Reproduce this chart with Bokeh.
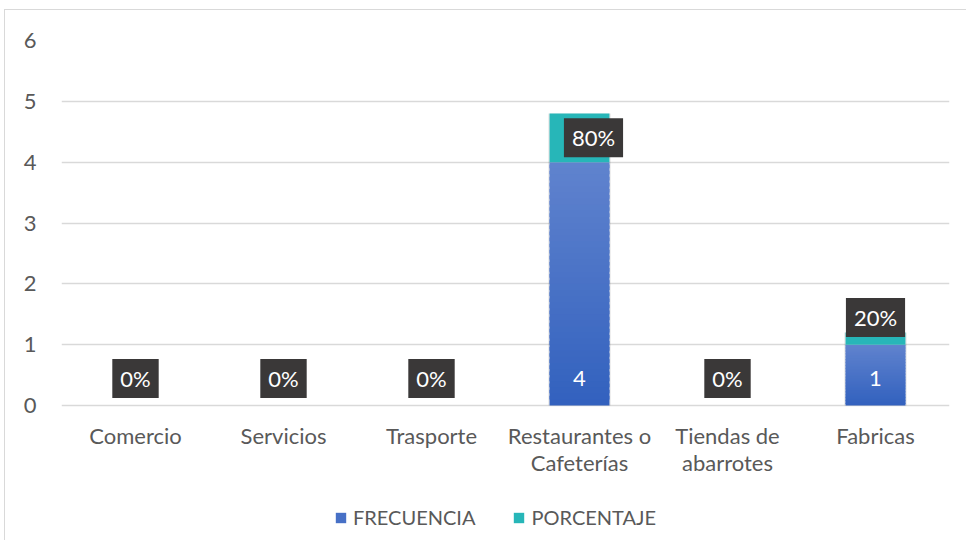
from bokeh.plotting import figure
from bokeh.models import Range1d, Legend, LegendItem, ColumnDataSource
from bokeh.embed import file_html
from bokeh.resources import INLINE
from bokeh.core.properties import value

categories = ["Comercio", "Servicios", "Trasporte", "Restaurantes o\nCafeterías", "Tiendas de\nabarrotes", "Fabricas"]
frecuencia = [0, 0, 0, 4, 0, 1]
porcentaje = [0.0, 0.0, 0.0, 0.8, 0.0, 0.2]
y_ticks = [0, 1, 2, 3, 4, 5, 6]

FONT = "Lato"
TXT = "#595959"
BLUE_TOP = (0x60, 0x83, 0xCE)
BLUE_BOT = (0x32, 0x61, 0xBE)
TEAL = "#27B6B8"

# plot area: 0..6 occupies the upper 365 px; the lower 135 px holds the category labels and legend
Y_MAX = 6
Y_MIN = -Y_MAX * 135 / 365
p = figure(x_range=categories, y_range=Range1d(Y_MIN, Y_MAX),
           output_backend="svg", toolbar_location=None, x_axis_location=None,
           min_border_left=56, min_border_right=18, min_border_top=30, min_border_bottom=0)
p.frame_width = 888
p.frame_height = 500
p.outline_line_color = None
p.styles = {"margin-left": "4px", "margin-top": "9px",
            "border-left": "1px solid #d9d9d9", "border-top": "1px solid #d9d9d9"}

# gradient bars (banded from the data values)
N = 40
bx, bb, bt, bc = [], [], [], []
for c, v in zip(categories, frecuencia):
    if v <= 0:
        continue
    for i in range(N):
        t = (i + 0.5) / N
        col = tuple(int(round(BLUE_BOT[k] + (BLUE_TOP[k] - BLUE_BOT[k]) * t)) for k in range(3))
        bx.append(c)
        bb.append(v * i / N)
        bt.append(min(v, v * (i + 1.6) / N))
        bc.append("#%02x%02x%02x" % col)
# soft shadow
sx = [c for c, v in zip(categories, frecuencia) if v > 0]
stop = [v + q for v, q in zip(frecuencia, porcentaje) if v > 0]
p.vbar(x=sx, top=stop, bottom=0, width=0.425, fill_color="#000000", fill_alpha=0.07, line_color=None)
p.vbar(x=bx, top=bt, bottom=bb, width=0.405, fill_color=bc, line_color=None)
p.vbar(x=categories, top=[v + q for v, q in zip(frecuencia, porcentaje)], bottom=frecuencia,
       width=0.405, fill_color=TEAL, line_color=None)

# legend proxies (outside the visible range)
r1 = p.vbar(x=[categories[0]], top=[-20], bottom=[-21], width=0.1, fill_color="#4770C6", line_color=None)
r2 = p.vbar(x=[categories[0]], top=[-20], bottom=[-21], width=0.1, fill_color=TEAL, line_color=None)

# category labels (under the zero line)
p.text(x=categories, y=[0] * len(categories), text=categories, y_offset=16,
       text_align="center", text_baseline="top", text_color=TXT,
       text_font=value(FONT), text_font_size="22px", text_line_height=1.0)

# frequency labels
fx = [c for c, v in zip(categories, frecuencia) if v > 0]
ft = [str(v) for v in frecuencia if v > 0]
p.text(x=fx, y=[0] * len(fx), text=ft, y_offset=-27, text_align="center", text_baseline="middle",
       text_color="white", text_font=value(FONT), text_font_size="22px")

# percentage labels
px_off = [0, 0, 0, 14, 0, 0]
py_off = [-27, -27, -27, 0, -27, -21]
py = [v + q / 2 for v, q in zip(frecuencia, porcentaje)]
pt = ["%d%%" % round(q * 100) for q in porcentaje]
src = ColumnDataSource(dict(x=categories, y=py, t=pt, dx=px_off, dy=py_off))
p.text(x="x", y="y", text="t", x_offset="dx", y_offset="dy", source=src,
       text_align="center", text_baseline="middle", text_color="white",
       text_font=value(FONT), text_font_size="22px",
       background_fill_color="#3A3838", padding=dict(x=8, y=6))

# y axis
p.yaxis.ticker = y_ticks
p.yaxis.axis_line_color = None
p.yaxis.major_tick_line_color = None
p.yaxis.minor_tick_line_color = None
p.yaxis.major_label_text_font = FONT
p.yaxis.major_label_text_font_size = "22px"
p.yaxis.major_label_text_color = TXT
p.yaxis.major_label_standoff = 19
p.xgrid.grid_line_color = None
p.ygrid.grid_line_color = "#D9D9D9"
p.ygrid.grid_line_width = 1.5

legend = Legend(items=[LegendItem(label="FRECUENCIA", renderers=[r1]),
                       LegendItem(label="PORCENTAJE", renderers=[r2])],
                orientation="horizontal", location=(273, 11),
                label_text_font=FONT, label_text_font_size="20px", label_text_color=TXT,
                glyph_width=13, glyph_height=13, spacing=37, border_line_color=None,
                background_fill_alpha=0, margin=0, padding=0, label_standoff=6,
                label_height=22)
p.add_layout(legend, "center")

open("out.html", "w").write(file_html(p, INLINE))
